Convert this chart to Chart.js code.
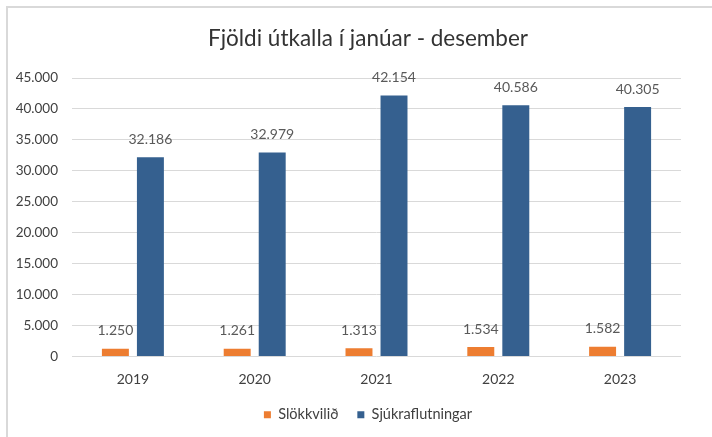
<!DOCTYPE html>
<html>
<head>
<meta charset="utf-8">
<script src="https://cdn.jsdelivr.net/npm/chart.js@4.4.1/dist/chart.umd.min.js"></script>
<style>
  html, body { margin: 0; padding: 0; background: #fff; overflow: hidden; }
  #wrap { position: relative; width: 712px; height: 437px; }
  #chart { position: absolute; left: 0; top: 0; }
  #frame {
    position: absolute; left: 6px; top: 6px; width: 720px; height: 440px;
    border-top: 2px solid #d9d9d9; border-left: 2px solid #d9d9d9;
    pointer-events: none;
  }
</style>
</head>
<body>
<div id="wrap">
  <canvas id="chart" width="712" height="437"></canvas>
  <div id="frame"></div>
</div>
<script>
// ---- DATA ----
const years = ['2019', '2020', '2021', '2022', '2023'];
const slokkvilid = [1250, 1261, 1313, 1534, 1582];
const sjukraflutningar = [32186, 32979, 42154, 40586, 40305];
const yTicks = [0, 5000, 10000, 15000, 20000, 25000, 30000, 35000, 40000, 45000];

const FONT = 'Lato, "Open Sans", sans-serif';

// ---- UTILS ----
function fmtIs(n) {
  return String(n).replace(/\B(?=(\d{3})+(?!\d))/g, '.');
}

// value labels above each bar
const barLabels = {
  id: 'barLabels',
  afterDatasetsDraw(chart) {
    const ctx = chart.ctx;
    ctx.save();
    ctx.font = '14px ' + FONT;
    ctx.fillStyle = '#595959';
    ctx.textAlign = 'center';
    ctx.textBaseline = 'middle';
    chart.data.datasets.forEach((ds, i) => {
      chart.getDatasetMeta(i).data.forEach((bar, j) => {
        ctx.fillText(fmtIs(ds.data[j]), bar.x, bar.y - 18);
      });
    });
    ctx.restore();
  }
};

new Chart(document.getElementById('chart'), {
  type: 'bar',
  data: {
    labels: years,
    datasets: [
      { label: 'Slökkvilið', data: slokkvilid, backgroundColor: '#ED7D31' },
      { label: 'Sjúkraflutningar', data: sjukraflutningar, backgroundColor: '#35608F' }
    ]
  },
  options: {
    responsive: false,
    animation: false,
    devicePixelRatio: 1,
    categoryPercentage: 0.575,
    barPercentage: 0.77,
    // right padding is negative so title + legend center a bit right of the canvas middle
    layout: { padding: { left: 13, right: -11, top: 0, bottom: 5 } },
    plugins: {
      tooltip: { enabled: false },
      title: {
        display: true,
        text: 'Fjöldi útkalla í janúar - desember',
        color: '#333333',
        font: { family: FONT, size: 22.5, weight: 'normal' },
        padding: { top: 25, bottom: 26 }
      },
      legend: {
        position: 'bottom',
        labels: {
          boxWidth: 7,
          boxHeight: 7,
          padding: 19,
          color: '#404040',
          font: { family: FONT, size: 14.5 }
        }
      }
    },
    scales: {
      x: {
        afterFit(scale) { scale.height = 32; },
        grid: { display: false, drawTicks: false },
        border: { display: false },
        ticks: { color: '#404040', padding: 15, font: { family: FONT, size: 14 } }
      },
      y: {
        min: 0,
        max: 45000,
        afterFit(scale) { scale.width = 59; },
        afterBuildTicks(scale) { scale.ticks = yTicks.map(v => ({ value: v })); },
        grid: { color: '#d9d9d9', lineWidth: 1, drawTicks: false },
        border: { display: false },
        ticks: {
          color: '#404040',
          padding: 14,
          font: { family: FONT, size: 13.5 },
          callback: v => fmtIs(v)
        }
      },
      // empty spacer axis on the right
      y2: {
        position: 'right',
        afterFit(scale) { scale.width = 42; },
        grid: { display: false, drawTicks: false },
        border: { display: false },
        ticks: { display: false }
      }
    }
  },
  plugins: [barLabels]
});
</script>
</body>
</html>
